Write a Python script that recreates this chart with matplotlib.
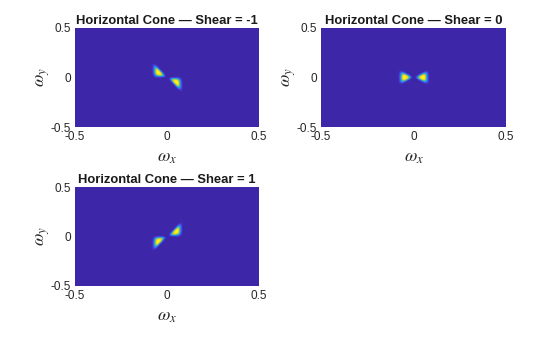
import numpy as np
import matplotlib
matplotlib.use("Agg")
import matplotlib.pyplot as plt
from matplotlib.colors import LinearSegmentedColormap

# ---- data ----
shears = [-1, 0, 1]
titles = ["Horizontal Cone \u2014 Shear = -1",
          "Horizontal Cone \u2014 Shear = 0",
          "Horizontal Cone \u2014 Shear = 1"]
tick_vals = [-0.5, 0, 0.5]
tick_labels = ["-0.5", "0", "0.5"]
# radial profile of the filter along |omega_x|
radial_w = [0.0, 0.010, 0.018, 0.028, 0.040, 0.055, 0.063, 0.070, 0.078, 0.085, 0.5]
radial_v = [0.0, 0.0, 0.20, 0.60, 0.90, 1.0, 0.70, 0.30, 0.05, 0.0, 0.0]
# angular profile across the cone (slope omega_y/omega_x after shear)
slope_k = [-5.0, -1.1, -0.9, -0.7, -0.5, -0.3, 0.0, 0.3, 0.5, 0.7, 0.9, 1.1, 5.0]
slope_v = [0.0, 0.0, 0.12, 0.40, 0.75, 0.95, 1.0, 0.95, 0.75, 0.40, 0.12, 0.0, 0.0]
n_grid = 256

# parula-like colormap
parula_cols = [(0.2422, 0.1504, 0.6603), (0.2803, 0.2782, 0.9221),
               (0.2440, 0.4358, 0.9988), (0.1540, 0.5902, 0.9218),
               (0.0297, 0.7082, 0.8163), (0.1938, 0.7758, 0.6251),
               (0.5044, 0.7993, 0.3480), (0.8634, 0.7406, 0.1596),
               (0.9892, 0.8136, 0.1885), (0.9657, 0.9119, 0.1463),
               (0.9769, 0.9839, 0.0805)]
parula = LinearSegmentedColormap.from_list("parula", parula_cols)

plt.rcParams["font.family"] = ["Liberation Sans", "DejaVu Sans"]
plt.rcParams["mathtext.fontset"] = "stix"

fig = plt.figure(figsize=(5.6, 3.37), dpi=100)
W, H = 560.0, 337.0
boxes = [(75, 28, 184, 99), (321, 28, 185, 99), (75, 187, 184, 99)]

w = np.linspace(-0.5, 0.5, n_grid, endpoint=False)
WX, WY = np.meshgrid(w, w)
absx = np.abs(WX)
safe = np.where(absx > 1e-9, WX, 1e-9)
kern = np.ones(3) / 3.0


def soften(a):
    a = np.apply_along_axis(lambda r: np.convolve(r, kern, mode="same"), 0, a)
    return np.apply_along_axis(lambda r: np.convolve(r, kern, mode="same"), 1, a)


for s, title, (x0, y0, bw, bh) in zip(shears, titles, boxes):
    ax = fig.add_axes([x0 / W, 1 - (y0 + bh) / H, bw / W, bh / H])
    slope = WY / safe - s
    img = np.interp(absx, radial_w, radial_v) * np.interp(slope, slope_k, slope_v)
    img = soften(img)
    ax.imshow(img, cmap=parula, origin="lower", aspect="auto",
              extent=[-0.5, 0.495, -0.5, 0.5],
              interpolation="bilinear", vmin=0, vmax=img.max())
    ax.set_xlim(-0.5, 0.5)
    ax.set_ylim(-0.5, 0.5)
    ax.set_xticks(tick_vals)
    ax.set_xticklabels(tick_labels)
    ax.set_yticks(tick_vals)
    ax.set_yticklabels(tick_labels)
    ax.tick_params(length=0, labelsize=8.5, pad=3, colors="#262626")
    for sp in ax.spines.values():
        sp.set_visible(False)
    ax.set_title(title, fontsize=9.4, fontweight="bold", pad=3, color="#1a1a1a")
    ax.set_xlabel(r"$\omega_x$", fontsize=13, color="#262626")
    ax.set_ylabel(r"$\omega_y$", fontsize=13, color="#262626")
    ax.xaxis.set_label_coords(0.5, -0.22)
    ax.yaxis.set_label_coords(-0.127, 0.5)

fig.patch.set_facecolor("white")
fig.savefig("out.png", dpi=100, facecolor="white")
